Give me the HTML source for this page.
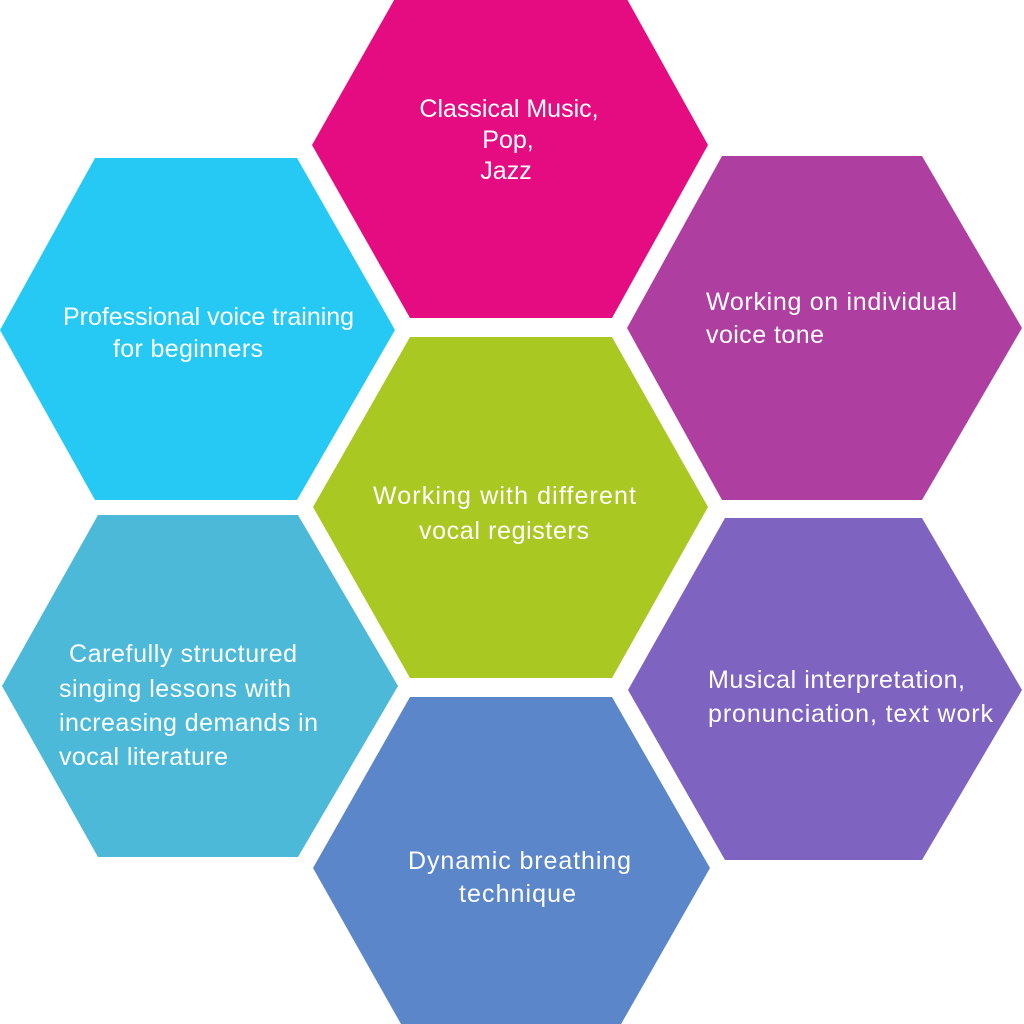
<!DOCTYPE html>
<html><head><style>body{margin:0;background:#fff}svg{display:block}text{font-family:"Liberation Sans",sans-serif;font-size:25px;fill:#fff}</style></head>
<body>
<svg width="1024" height="1024" viewBox="0 0 1024 1024">
<polygon points="410,-28 612,-28 708,145 612,318 410,318 312,145" fill="#E40C80"/>
<polygon points="95,158 297,158 395,330 297,500 95,500 0,330" fill="#26C9F3"/>
<polygon points="722,156 922,156 1022,328 922,500 722,500 627,328" fill="#AE3FA0"/>
<polygon points="410,337 612,337 708,507 612,678 410,678 313,507" fill="#AAC822"/>
<polygon points="98,515 298,515 398,686 298,857 98,857 2,686" fill="#4DB9D9"/>
<polygon points="725,518 922,518 1022,690 922,860 725,860 628,690" fill="#7F63C1"/>
<polygon points="410,697 612,697 710,868 612,1040 410,1040 313,868" fill="#5B86C9"/>
<text x="509" y="117" text-anchor="middle">Classical Music,</text>
<text x="508" y="148" text-anchor="middle">Pop,</text>
<text x="506" y="179" text-anchor="middle">Jazz</text>
<g lengthAdjust="spacingAndGlyphs">
<text x="63" y="325" textLength="291">Professional voice training</text>
<text x="113" y="357" textLength="150">for beginners</text>
<text x="706" y="310" textLength="251">Working on individual</text>
<text x="706" y="343" textLength="118">voice tone</text>
<text x="373" y="504" textLength="263">Working with different</text>
<text x="419" y="539" textLength="170">vocal registers</text>
<text x="69" y="662" textLength="228">Carefully structured</text>
<text x="59" y="697" textLength="232">singing lessons with</text>
<text x="59" y="731" textLength="259">increasing demands in</text>
<text x="59" y="765" textLength="169">vocal literature</text>
<text x="708" y="688" textLength="257">Musical interpretation,</text>
<text x="708" y="722" textLength="285">pronunciation, text work</text>
<text x="408" y="869" textLength="223">Dynamic breathing</text>
<text x="459" y="902" textLength="117">technique</text>
</g>
</svg>
</body></html>
